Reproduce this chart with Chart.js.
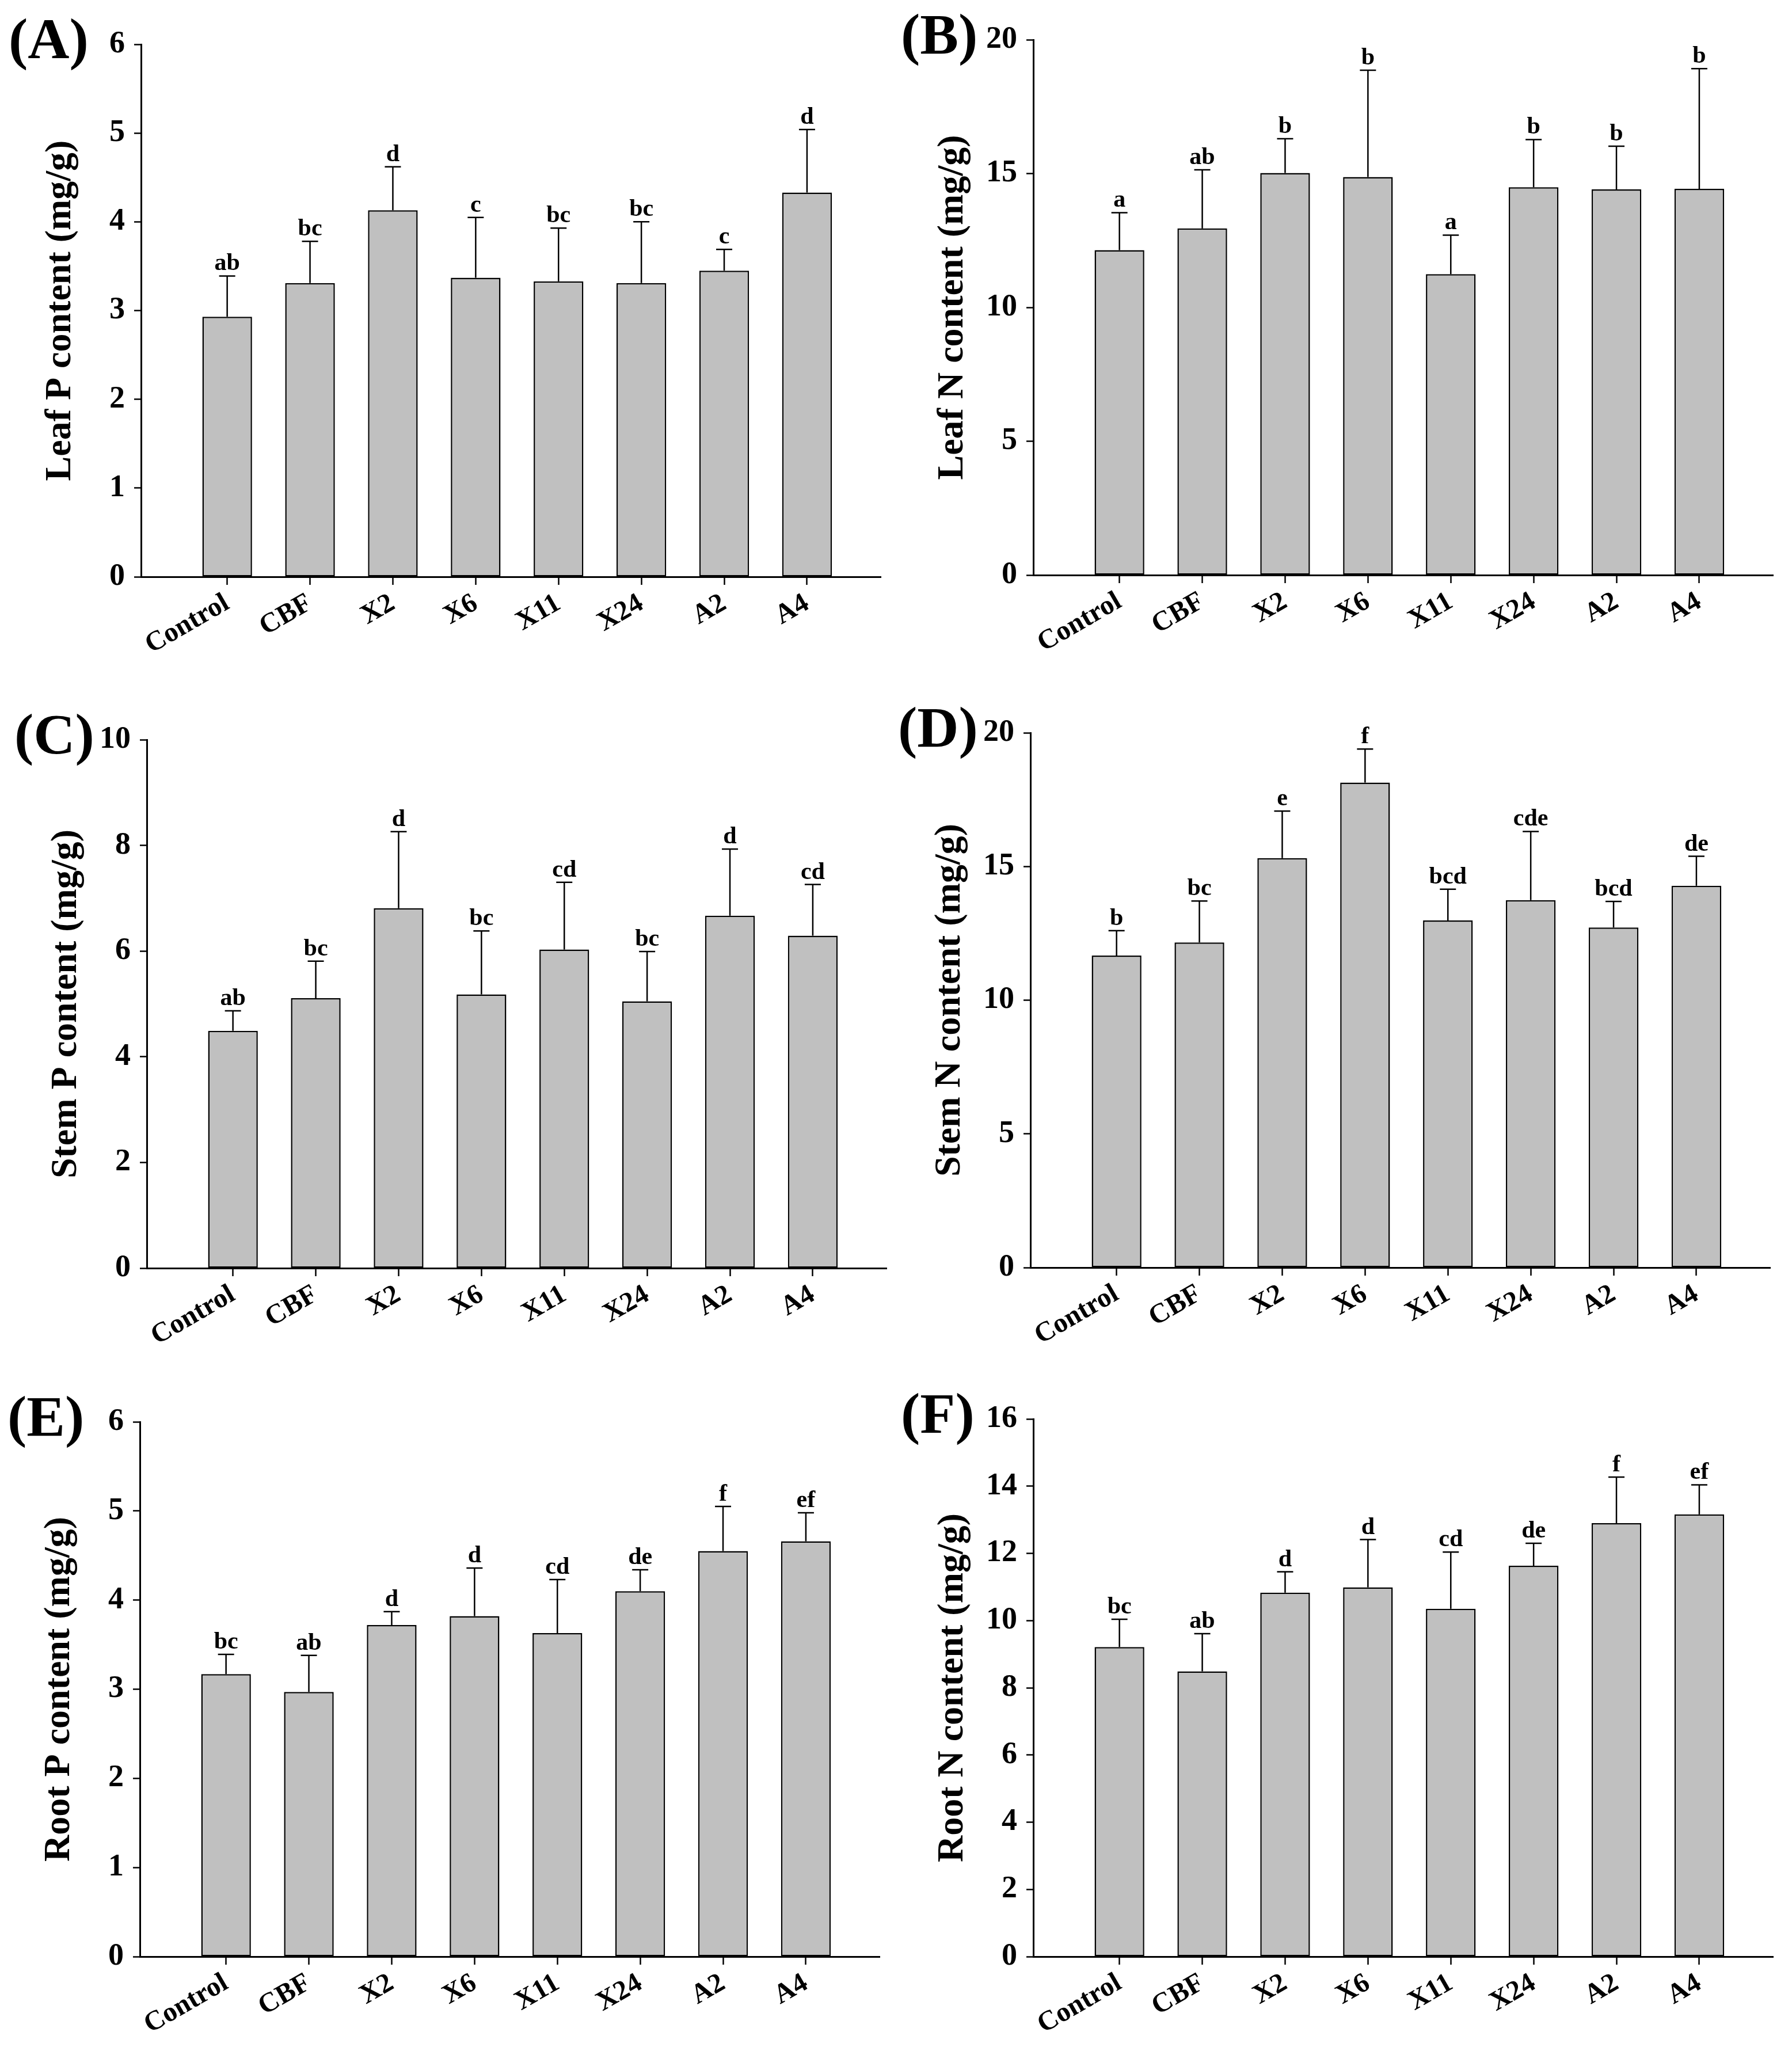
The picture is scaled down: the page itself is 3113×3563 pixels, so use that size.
<!DOCTYPE html>
<html>
<head>
<meta charset="utf-8">
<script src="https://cdn.jsdelivr.net/npm/chart.js@4.4.1/dist/chart.umd.min.js"></script>
<style>
html, body { margin: 0; padding: 0; background: #fff; overflow: hidden; }
body { width: 3113px; height: 3563px; position: relative; }
canvas { position: absolute; }
</style>
</head>
<body>
<canvas id="chartA"></canvas>
<canvas id="chartB"></canvas>
<canvas id="chartC"></canvas>
<canvas id="chartD"></canvas>
<canvas id="chartE"></canvas>
<canvas id="chartF"></canvas>
<script>
// Treatments (x axis)
const categories = ['Control', 'CBF', 'X2', 'X6', 'X11', 'X24', 'A2', 'A4'];

// (A) Leaf P
const leafP = [2.93, 3.31, 4.13, 3.37, 3.33, 3.31, 3.45, 4.33];
const leafPErr = [0.46, 0.47, 0.49, 0.68, 0.60, 0.69, 0.24, 0.71];
const leafPLetters = ['ab', 'bc', 'd', 'c', 'bc', 'bc', 'c', 'd'];

// (B) Leaf N
const leafN = [12.14, 12.95, 15.02, 14.87, 11.24, 14.49, 14.41, 14.43];
const leafNErr = [1.40, 2.19, 1.28, 3.99, 1.46, 1.78, 1.61, 4.49];
const leafNLetters = ['a', 'ab', 'b', 'b', 'a', 'b', 'b', 'b'];

// (C) Stem P
const stemP = [4.49, 5.11, 6.81, 5.18, 6.03, 5.05, 6.67, 6.29];
const stemPErr = [0.38, 0.70, 1.45, 1.20, 1.27, 0.94, 1.26, 0.97];
const stemPLetters = ['ab', 'bc', 'd', 'bc', 'cd', 'bc', 'd', 'cd'];

// (D) Stem N
const stemN = [11.67, 12.16, 15.31, 18.14, 12.98, 13.74, 12.72, 14.28];
const stemNErr = [0.93, 1.55, 1.76, 1.25, 1.17, 2.57, 0.97, 1.10];
const stemNLetters = ['b', 'bc', 'e', 'f', 'bcd', 'cde', 'bcd', 'de'];

// (E) Root P
const rootP = [3.17, 2.97, 3.72, 3.82, 3.63, 4.10, 4.55, 4.66];
const rootPErr = [0.22, 0.41, 0.15, 0.54, 0.60, 0.24, 0.50, 0.32];
const rootPLetters = ['bc', 'ab', 'd', 'd', 'cd', 'de', 'f', 'ef'];

// (F) Root N
const rootN = [9.21, 8.49, 10.83, 10.99, 10.35, 11.63, 12.90, 13.16];
const rootNErr = [0.83, 1.12, 0.62, 1.42, 1.69, 0.67, 1.37, 0.88];
const rootNLetters = ['bc', 'ab', 'd', 'd', 'cd', 'de', 'f', 'ef'];

// y axis ranges
const yMax = [6, 20, 10, 20, 6, 16];
const yStep = [1, 5, 2, 5, 1, 2];

const FONT = 'Liberation Serif';

const panels = [
    { id: 'chartA', label: '(A)', title: 'Leaf P content (mg/g)', means: leafP, errs: leafPErr, letters: leafPLetters, axisX: 245, top: 77, height: 925 },
    { id: 'chartB', label: '(B)', title: 'Leaf N content (mg/g)', means: leafN, errs: leafNErr, letters: leafNLetters, axisX: 1795, top: 69, height: 930 },
    { id: 'chartC', label: '(C)', title: 'Stem P content (mg/g)', means: stemP, errs: stemPErr, letters: stemPLetters, axisX: 255, top: 1285, height: 918 },
    { id: 'chartD', label: '(D)', title: 'Stem N content (mg/g)', means: stemN, errs: stemNErr, letters: stemNLetters, axisX: 1790, top: 1273, height: 929 },
    { id: 'chartE', label: '(E)', title: 'Root P content (mg/g)', means: rootP, errs: rootPErr, letters: rootPLetters, axisX: 243, top: 2470, height: 929 },
    { id: 'chartF', label: '(F)', title: 'Root N content (mg/g)', means: rootN, errs: rootNErr, letters: rootNLetters, axisX: 1795, top: 2465, height: 934 }
];

/**
 * Draw upper error bars, significance letters and the panel letter
 */
const errorBarPlugin = {
    id: 'errorBars',
    afterDatasetsDraw(chart, args, opts) {
        const ctx = chart.ctx;
        const y = chart.scales.y;
        const meta = chart.getDatasetMeta(0);
        ctx.save();
        ctx.strokeStyle = '#000';
        ctx.fillStyle = '#000';
        ctx.lineWidth = 2.5;
        ctx.font = 'bold 42px "' + FONT + '"';
        ctx.textAlign = 'center';
        ctx.textBaseline = 'alphabetic';
        meta.data.forEach((bar, i) => {
            const top = y.getPixelForValue(opts.means[i] + opts.errs[i]);
            ctx.beginPath();
            ctx.moveTo(bar.x, bar.y);
            ctx.lineTo(bar.x, top);
            ctx.moveTo(bar.x - 14, top);
            ctx.lineTo(bar.x + 14, top);
            ctx.stroke();
            ctx.fillText(opts.letters[i], bar.x, top - 10);
        });
        ctx.font = 'bold 100px "' + FONT + '"';
        ctx.textAlign = 'left';
        ctx.fillText(opts.label, chart.chartArea.left - 230, chart.chartArea.top + 24);
        ctx.restore();
    }
};

function makePanel(p, idx) {
    const padLeft = 58, yWidth = 182, plotW = 1285, padRight = 25, padTop = 70, xHeight = 160;
    const canvas = document.getElementById(p.id);
    canvas.width = padLeft + yWidth + plotW + padRight;
    canvas.height = padTop + p.height + xHeight;
    canvas.style.left = (p.axisX - padLeft - yWidth) + 'px';
    canvas.style.top = (p.top - padTop) + 'px';

    new Chart(canvas.getContext('2d'), {
        type: 'bar',
        data: {
            datasets: [{
                data: p.means.map((v, i) => ({ x: i, y: v })),
                backgroundColor: '#c0c0c0',
                borderColor: '#000',
                borderWidth: 2.5,
                borderSkipped: false,
                barPercentage: 0.6,
                categoryPercentage: 1
            }]
        },
        options: {
            responsive: false,
            animation: false,
            layout: { padding: { left: padLeft, top: padTop, right: padRight, bottom: 0 } },
            scales: {
                x: {
                    type: 'linear',
                    min: -1.04,
                    max: 7.89,
                    offset: false,
                    afterBuildTicks: s => { s.ticks = categories.map((c, i) => ({ value: i })); },
                    afterFit: s => { s.height = xHeight; s.paddingLeft = 0; s.paddingRight = 0; },
                    grid: { offset: false, drawOnChartArea: false, drawTicks: true, tickLength: 14, tickWidth: 2.5, tickColor: '#000' },
                    border: { display: true, color: '#000', width: 3 },
                    ticks: {
                        autoSkip: false,
                        minRotation: 30,
                        maxRotation: 30,
                        padding: 4,
                        color: '#000',
                        font: { family: FONT, weight: 'bold', size: 48 },
                        callback: (v, i) => categories[i]
                    }
                },
                y: {
                    min: 0,
                    max: yMax[idx],
                    afterFit: s => { s.width = yWidth; s.paddingTop = 0; s.paddingBottom = 0; },
                    grid: { drawOnChartArea: false, drawTicks: true, tickLength: 12, tickWidth: 2.5, tickColor: '#000' },
                    border: { display: true, color: '#000', width: 3 },
                    ticks: {
                        stepSize: yStep[idx],
                        padding: 16,
                        color: '#000',
                        font: { family: FONT, weight: 'bold', size: 54 }
                    },
                    title: {
                        display: true,
                        text: p.title,
                        color: '#000',
                        padding: { top: 4, bottom: 4 },
                        font: { family: FONT, weight: 'bold', size: 64 }
                    }
                }
            },
            plugins: {
                legend: { display: false },
                tooltip: { enabled: false },
                errorBars: { means: p.means, errs: p.errs, letters: p.letters, label: p.label }
            }
        },
        plugins: [errorBarPlugin]
    });
}

document.addEventListener('DOMContentLoaded', function() {
    panels.forEach(makePanel);
});
</script>
</body>
</html>
